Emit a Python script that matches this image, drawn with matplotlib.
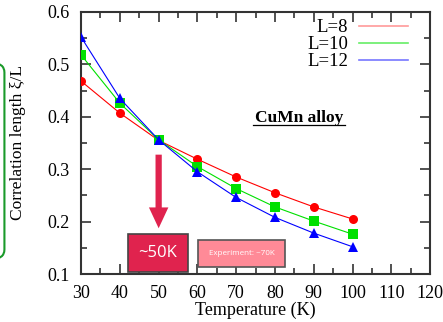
import matplotlib
matplotlib.use("Agg")
import matplotlib.pyplot as plt
from matplotlib.patches import FancyBboxPatch, Rectangle
from matplotlib.ticker import MultipleLocator

# Datos
temperaturas = [30, 40, 50, 60, 70, 80, 90, 100]
xi_L8 = [0.468, 0.407, 0.355, 0.319, 0.285, 0.255, 0.228, 0.205]
xi_L10 = [0.518, 0.426, 0.356, 0.305, 0.263, 0.228, 0.201, 0.176]
xi_L12 = [0.552, 0.435, 0.356, 0.295, 0.246, 0.208, 0.178, 0.152]
etiquetas = ['L=8', 'L=10', 'L=12']

plt.rcParams['font.family'] = ['Liberation Serif', 'DejaVu Serif']

fig = plt.figure(figsize=(4.43, 3.22), dpi=100)
ax = fig.add_axes([0.183, 0.149, 0.788, 0.814])

series = [
    (xi_L8, 'red', 'o', 6.5, '#ff9a9a'),
    (xi_L10, '#00e000', 's', 7, '#66ee66'),
    (xi_L12, 'blue', '^', 6.5, '#7777ff'),
]
for (vals, color, marker, ms, legcolor), lab in zip(series, etiquetas):
    ax.plot(temperaturas, vals, color=color, lw=0.8, marker=marker,
            markersize=ms, markeredgewidth=0, zorder=3)
    ax.plot([], [], color=legcolor, lw=1.2, label=lab)

ax.set_xlim(30, 120)
ax.set_ylim(0.1, 0.6)
ax.xaxis.set_major_locator(MultipleLocator(10))
ax.xaxis.set_minor_locator(MultipleLocator(5))
ax.yaxis.set_major_locator(MultipleLocator(0.1))
ax.yaxis.set_minor_locator(MultipleLocator(0.05))
ax.tick_params(which='both', direction='in', top=True, right=True,
               width=1.2, colors='#333333', labelcolor='black', labelsize=13)
ax.tick_params(which='major', length=7)
ax.tick_params(which='minor', length=4)
ax.tick_params(axis='x', pad=8)
ax.tick_params(axis='y', pad=8)
for s in ax.spines.values():
    s.set_linewidth(1.5)
    s.set_color('#333333')

ax.set_xlabel('Temperature (K)', fontsize=13, labelpad=0)
ax.set_ylabel('Correlation length ξ/L', fontsize=12.5)
ax.yaxis.set_label_coords(-0.157, 0.5)

leg = ax.legend(loc='upper right', bbox_to_anchor=(0.937, 0.973), frameon=False,
                fontsize=13.5, markerfirst=False, handlelength=2.6,
                handletextpad=0.6, labelspacing=0.0, borderpad=0.0,
                borderaxespad=0.0)
for t in leg.get_texts():
    t.set_ha('right')

ax.text(86.2, 0.398, 'CuMn alloy', fontsize=12.5, fontweight='bold',
        ha='center', va='center')
ax.plot([74.3, 98.1], [0.384, 0.384], color='black', lw=0.9, zorder=3)

# Flecha y cajas de anotacion
ax.annotate('', xy=(50, 0.182), xytext=(50, 0.333),
            arrowprops=dict(arrowstyle='simple,head_width=1.4,head_length=1.5,tail_width=0.45',
                            color='#e0234e', lw=0), annotation_clip=False)
ax.add_patch(Rectangle((42.1, 0.104), 15.5, 0.072, facecolor='#e0234e',
                       edgecolor='#444444', lw=1.2, zorder=4, clip_on=False))
ax.text(49.85, 0.140, '~50K', color='white', fontsize=12, family='Open Sans',
        ha='center', va='center', zorder=5)
ax.add_patch(Rectangle((60.2, 0.113), 22.4, 0.052, facecolor='#ff8a97',
                       edgecolor='#555555', lw=1.2, zorder=4, clip_on=False))
ax.text(71.4, 0.139, 'Experiment: ~70K', color='white', fontsize=5.8,
        family='Open Sans', ha='center', va='center', zorder=5)

# Borde verde a la izquierda
fig.patches.append(FancyBboxPatch((-0.2, 0.195), 0.21, 0.61,
                                  boxstyle='round,pad=0,rounding_size=0.03',
                                  transform=fig.transFigure, facecolor='none',
                                  edgecolor='#1a9a2a', lw=1.5, figure=fig))

fig.savefig('out.png', dpi=100)
